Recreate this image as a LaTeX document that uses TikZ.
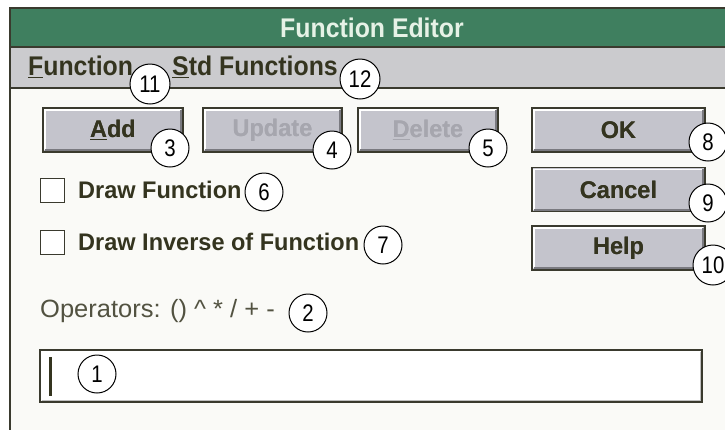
\documentclass[tikz,border=0pt]{standalone}
\usepackage{fontspec}
\setmainfont{Liberation Sans}
\newfontfamily\uifont{Liberation Sans}[FakeStretch=0.92]
\newfontfamily\lblfont{Liberation Sans}[FakeStretch=0.98]
\newfontfamily\opsfont{Liberation Sans}[FakeStretch=1.02]
\newfontfamily\numfont{Liberation Sans}[FakeStretch=0.85]
\definecolor{titlegreen}{HTML}{3F7F5F}
\definecolor{titletext}{HTML}{E6F2E6}
\definecolor{menugray}{HTML}{CBCBCE}
\definecolor{edge}{HTML}{3A3A2E}
\definecolor{ink}{HTML}{34341F}
\definecolor{btnfill}{HTML}{C4C4CC}
\definecolor{btnshadow}{HTML}{7A7A80}
\definecolor{dimtext}{HTML}{A6A6AE}
\definecolor{winbg}{HTML}{FAFAF7}
\tikzset{
  btn/.style={draw=edge, fill=btnfill, line width=1.3pt, minimum height=44pt, inner sep=0pt,
    text=ink, font=\lblfont\bfseries\fontsize{24}{24}\selectfont},
  dimbtn/.style={btn, text=dimtext},
  menutext/.style={anchor=west, inner sep=0pt, text=ink, font=\uifont\bfseries\fontsize{27}{27}\selectfont},
  chklabel/.style={anchor=west, inner sep=0pt, text=ink, font=\lblfont\bfseries\fontsize{24}{24}\selectfont},
  chkbox/.style={draw=edge, fill=white, line width=1pt, minimum size=24pt, inner sep=0pt},
  numc/.style={circle, draw=black, fill=white, line width=1pt, minimum size=38pt, inner sep=0pt,
    font=\numfont\fontsize{24}{24}\selectfont},
  numcc/.style={numc, minimum size=40pt},
}
\newcommand{\btnshade}[1]{%
  \draw[white, line width=1.5pt] ([shift={(2.5,-2.5)}]#1.south west) -- ([shift={(2.5,2.5)}]#1.north west) -- ([shift={(-2.5,2.5)}]#1.north east);
  \draw[btnshadow, line width=2pt] ([shift={(2.5,-2.5)}]#1.south west) -- ([shift={(-2.5,-2.5)}]#1.south east) -- ([shift={(-2.5,2.5)}]#1.north east);
}
\begin{document}
\begin{tikzpicture}[x=1pt,y=-1pt]
\useasboundingbox (0,0) rectangle (725,429);
\fill[white] (0,0) rectangle (725,429);
% window
\fill[winbg] (10,8) rectangle (730,435);
\fill[titlegreen] (10,8) rectangle (730,47);
\fill[menugray] (10,47) rectangle (730,88);
\draw[edge, line width=1.2pt] (10,47) -- (730,47);
\draw[edge, line width=1.2pt] (10,88) -- (730,88);
\draw[edge, line width=1.5pt] (10,435) -- (10,8) -- (730,8);
% title and menu
\node[text=titletext, inner sep=0pt, font=\uifont\bfseries\fontsize{27}{27}\selectfont] (title) at (372,28) {Function Editor};
\node[menutext] (mfun) at (28,67) {\underline{F}unction};
\node[menutext] (mstd) at (172,67) {\underline{S}td Functions};
% buttons
\node[btn, minimum width=140pt] (add) at (113,130) {\underline{A}dd};
\node[dimbtn, minimum width=139pt] (upd) at (272.5,130) {Update};
\node[dimbtn, minimum width=140pt] (del) at (428,130) {\underline{D}elete};
\node[btn, minimum width=173pt] (ok) at (618.5,130) {OK};
\node[btn, minimum width=173pt] (cancel) at (618.5,189.5) {Cancel};
\node[btn, minimum width=173pt] (help) at (618.5,248) {Help};
\btnshade{add}\btnshade{upd}\btnshade{del}\btnshade{ok}\btnshade{cancel}\btnshade{help}
\node[dimbtn, draw=none, fill=none] at (upd) {Update};
\node[dimbtn, draw=none, fill=none] at (del) {\underline{D}elete};
\node[btn, draw=none, fill=none] at (add) {\underline{A}dd};
\node[btn, draw=none, fill=none] at (ok) {OK};
\node[btn, draw=none, fill=none] at (cancel) {Cancel};
\node[btn, draw=none, fill=none] at (help) {Help};
% check boxes
\node[chkbox] (cb1) at (52,190) {};
\node[chklabel] (l1) at (78,190) {Draw Function};
\node[chkbox] (cb2) at (52,242) {};
\node[chklabel] (l2) at (78,242) {Draw Inverse of Function};
% operators
\node[anchor=west, inner sep=0pt, text=ink!85, font=\opsfont\fontsize{25}{25}\selectfont] (ops) at (40,311) {Operators: () \textasciicircum{} * / + -};
% text field
\node[draw=edge, line width=1.5pt, fill=white, minimum width=662pt, minimum height=52pt, inner sep=0pt] (field) at (371,376) {};
\draw[gray!50, line width=1pt] ([shift={(2.5,-2.5)}]field.south west) -- ([shift={(-2.5,-2.5)}]field.south east) -- ([shift={(-2.5,2.5)}]field.north east);
\fill[ink] (48.5,357) rectangle (51.5,396);
% callouts
\node[numc] (n1) at (97,374) {1};
\node[numc] (n2) at (308,313) {2};
\node[numc] (n3) at (170,148) {3};
\node[numc] (n4) at (332,150) {4};
\node[numc] (n5) at (488,148) {5};
\node[numc] (n6) at (264,192) {6};
\node[numc] (n7) at (383,245) {7};
\node[numc] (n8) at (708,142) {8};
\node[numc] (n9) at (708,203) {9};
\node[numcc] (n10) at (713,265) {10};
\node[numcc] (n11) at (150,84) {11};
\node[numcc] (n12) at (360,79) {12};
\end{tikzpicture}
\end{document}
